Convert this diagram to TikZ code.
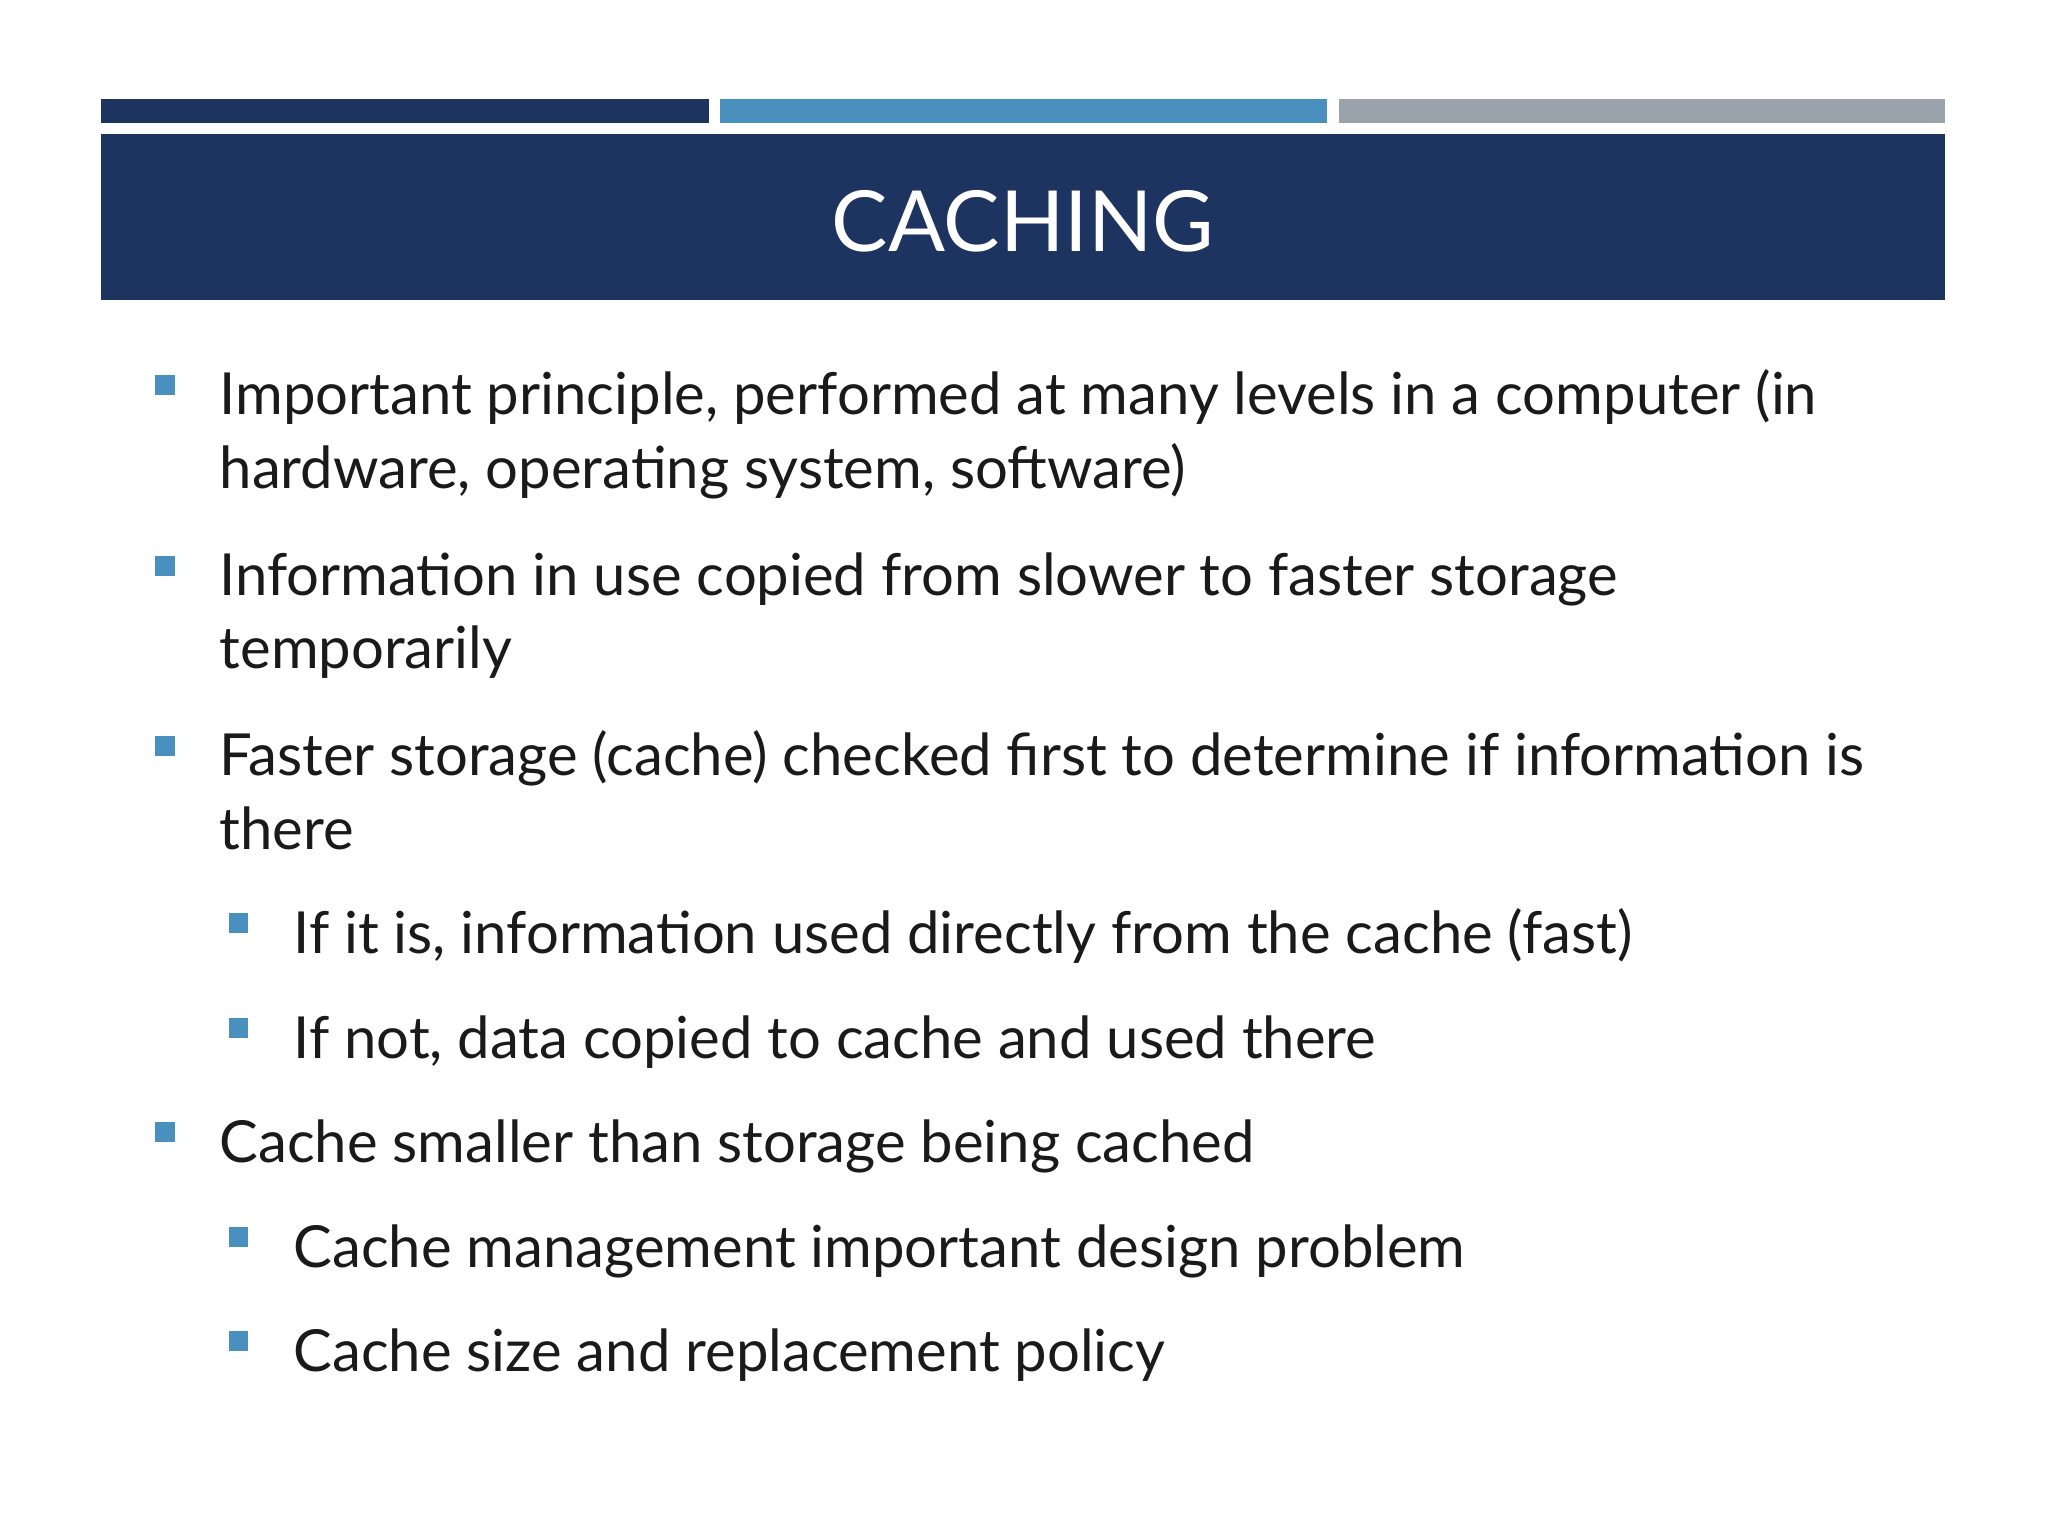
\documentclass[tikz,border=0pt]{standalone}
\usepackage{fontspec}
\setmainfont{Lato}
\definecolor{navy}{HTML}{1D3360}
\definecolor{lblue}{HTML}{4A90BE}
\definecolor{gry}{HTML}{9AA3AB}
\definecolor{txt}{HTML}{1A1A1A}
\begin{document}
\begin{tikzpicture}
\tikzset{ln/.style={anchor=base west,inner sep=0pt,font=\fontsize{16.5pt}{20pt}\selectfont,text=txt},
 sq/.style={fill=lblue,draw=none}}
\useasboundingbox (0,0) rectangle (20.48,-15.36);
\fill[white] (0,0) rectangle (20.48,-15.36);
\fill[navy] (1.01,-0.99) rectangle (7.09,-1.23);
\fill[lblue] (7.20,-0.99) rectangle (13.27,-1.23);
\fill[gry] (13.39,-0.99) rectangle (19.45,-1.23);
\fill[navy] (1.01,-1.34) rectangle (19.45,-3.00);
\node[anchor=base,text=white,font=\fontsize{24pt}{28pt}\selectfont] (title) at (10.23,-2.52) {CACHING};
% level-1 bullets
\foreach \y in {4.15,5.96,7.76,11.62}{\fill[sq] (1.55,-\y+0.20) rectangle (1.75,-\y+0.40);}
\foreach \y in {9.53,10.58,12.67,13.71}{\fill[sq] (2.29,-\y+0.20) rectangle (2.48,-\y+0.40);}
\node[ln] (l1) at (2.19,-4.15) {Important principle, performed at many levels in a computer (in};
\node[ln] (l2) at (2.19,-4.88) {hardware, operating system, software)};
\node[ln] (l3) at (2.19,-5.96) {Information in use copied from slower to faster storage};
\node[ln] (l4) at (2.19,-6.69) {temporarily};
\node[ln] (l5) at (2.19,-7.76) {Faster storage (cache) checked first to determine if information is};
\node[ln] (l6) at (2.19,-8.49) {there};
\node[ln] (l7) at (2.93,-9.53) {If it is, information used directly from the cache (fast)};
\node[ln] (l8) at (2.93,-10.58) {If not, data copied to cache and used there};
\node[ln] (l9) at (2.19,-11.62) {Cache smaller than storage being cached};
\node[ln] (l10) at (2.93,-12.67) {Cache management important design problem};
\node[ln] (l11) at (2.93,-13.71) {Cache size and replacement policy};
\end{tikzpicture}
\end{document}
